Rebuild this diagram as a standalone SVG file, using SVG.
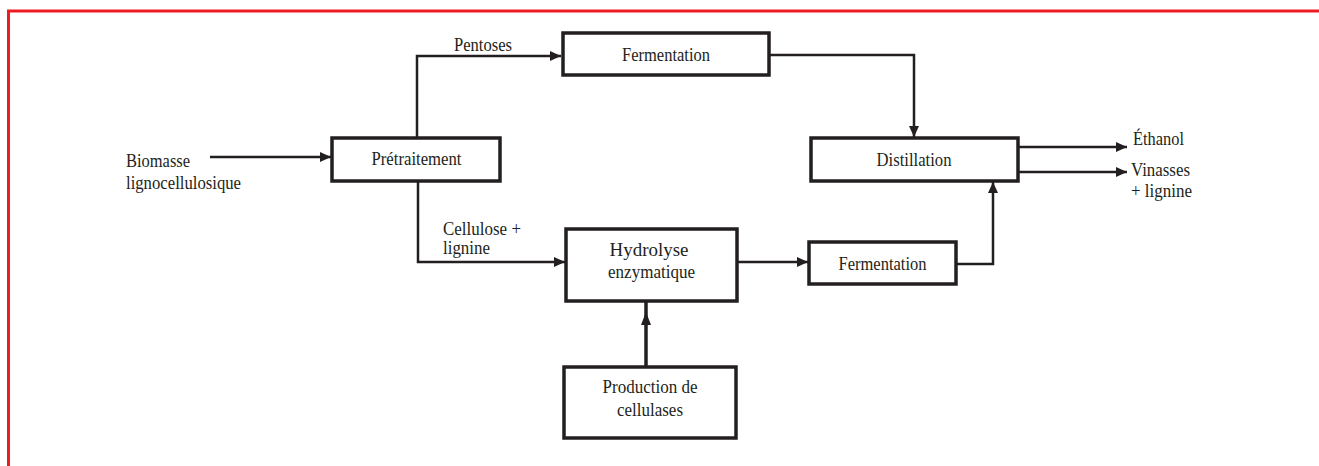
<svg xmlns="http://www.w3.org/2000/svg" width="1319" height="466" viewBox="0 0 1319 466">
<style>
.box{fill:#fff;stroke:#231f20;stroke-width:3.5}
.lbl{font-family:"Liberation Serif","Times New Roman",serif;font-size:19px;fill:#231f20}
.c{text-anchor:middle}
.con{fill:none;stroke:#231f20;stroke-width:2.5}
</style>
<defs>
<marker id="ah" markerUnits="userSpaceOnUse" markerWidth="11" markerHeight="10" refX="11" refY="5" orient="auto">
<path d="M0,0 L11,5 L0,10 z" fill="#231f20"/>
</marker>
</defs>
<rect x="0" y="0" width="1319" height="466" fill="#fff"/>
<g id="frame">
<line x1="7" y1="11" x2="1319" y2="11" stroke="#ed1c24" stroke-width="3"/>
<line x1="8.5" y1="10" x2="8.5" y2="466" stroke="#ed1c24" stroke-width="3"/>
</g>
<g id="connectors">
<path class="con" d="M210,157 H331" marker-end="url(#ah)"/>
<path class="con" d="M417,138 V56 H561" marker-end="url(#ah)"/>
<path class="con" d="M769,55 H914 V137" marker-end="url(#ah)"/>
<path class="con" d="M1018,147 H1127" marker-end="url(#ah)"/>
<path class="con" d="M1018,172 H1127" marker-end="url(#ah)"/>
<path class="con" d="M418,181 V262 H565" marker-end="url(#ah)"/>
<path class="con" d="M737,262 H808" marker-end="url(#ah)"/>
<path class="con" d="M956,264 H993 V182" marker-end="url(#ah)"/>
<path class="con" d="M646,367 V301" style="stroke-width:3.5"/>
<path d="M646,312 L651,325 L641,325 z" fill="#231f20"/>
</g>
<g id="biomasse">
<text class="lbl" x="126" y="167" textLength="64" lengthAdjust="spacingAndGlyphs">Biomasse</text>
<text class="lbl" x="126" y="189" textLength="115" lengthAdjust="spacingAndGlyphs">lignocellulosique</text>
</g>
<g id="pretraitement">
<rect class="box" x="332" y="138" width="168" height="43"/>
<text class="lbl c" x="416.5" y="165" textLength="90" lengthAdjust="spacingAndGlyphs">Prétraitement</text>
</g>
<g id="pentoses">
<text class="lbl" x="454" y="51" textLength="58" lengthAdjust="spacingAndGlyphs">Pentoses</text>
</g>
<g id="fermentation1">
<rect class="box" x="563" y="33" width="206" height="42"/>
<text class="lbl c" x="666" y="61" textLength="88" lengthAdjust="spacingAndGlyphs">Fermentation</text>
</g>
<g id="distillation">
<rect class="box" x="811" y="138" width="207" height="43"/>
<text class="lbl c" x="914" y="166" textLength="75" lengthAdjust="spacingAndGlyphs">Distillation</text>
</g>
<g id="ethanol">
<text class="lbl" x="1133" y="145" textLength="51" lengthAdjust="spacingAndGlyphs">Éthanol</text>
</g>
<g id="vinasses">
<text class="lbl" x="1131" y="176" textLength="59" lengthAdjust="spacingAndGlyphs">Vinasses</text>
<text class="lbl" x="1131" y="197" textLength="61" lengthAdjust="spacingAndGlyphs">+ lignine</text>
</g>
<g id="cellulose">
<text class="lbl" x="443" y="235" textLength="78" lengthAdjust="spacingAndGlyphs">Cellulose +</text>
<text class="lbl" x="443" y="254" textLength="47" lengthAdjust="spacingAndGlyphs">lignine</text>
</g>
<g id="hydrolyse">
<rect class="box" x="566" y="229" width="171" height="72"/>
<text class="lbl c" x="649" y="256" textLength="79" lengthAdjust="spacingAndGlyphs">Hydrolyse</text>
<text class="lbl c" x="651.5" y="278" textLength="87" lengthAdjust="spacingAndGlyphs">enzymatique</text>
</g>
<g id="fermentation2">
<rect class="box" x="809" y="242" width="147" height="42"/>
<text class="lbl c" x="882.5" y="270" textLength="88" lengthAdjust="spacingAndGlyphs">Fermentation</text>
</g>
<g id="production">
<rect class="box" x="564" y="367" width="172" height="71"/>
<text class="lbl c" x="650" y="393" textLength="95" lengthAdjust="spacingAndGlyphs">Production de</text>
<text class="lbl c" x="650" y="416" textLength="66" lengthAdjust="spacingAndGlyphs">cellulases</text>
</g>
</svg>
